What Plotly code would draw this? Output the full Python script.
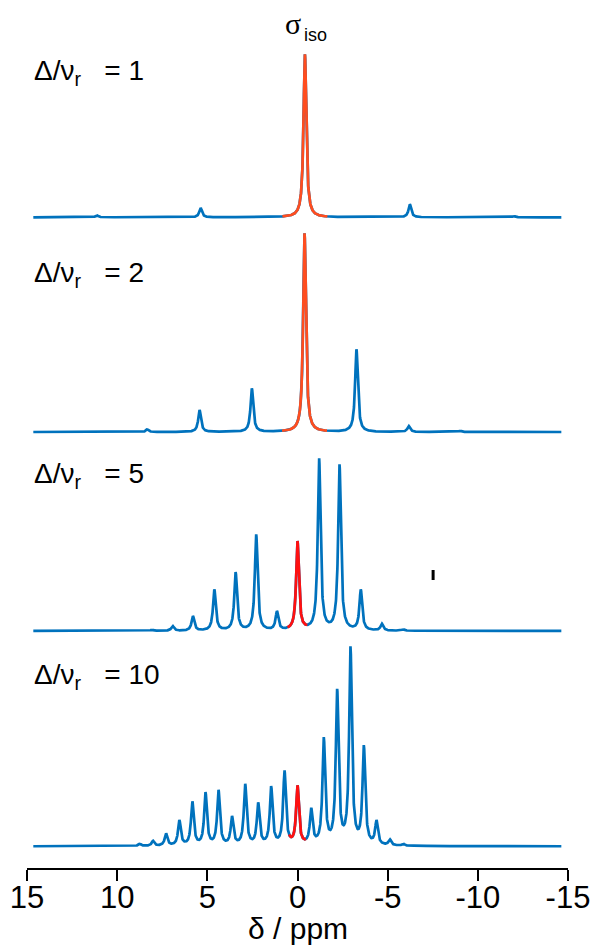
import numpy as np
import plotly.graph_objects as go

# ---------------- data ----------------
tick_vals = [15, 10, 5, 0, -5, -10, -15]
tick_text = ["15", "10", "5", "0", "-5", "-10", "-15"]

ratio_labels = ["1", "2", "5", "10"]

# peak positions (ppm) and observed peak heights (arbitrary units) per spectrum
pos_1 = [11.13, 5.37, -0.41, -6.23, -11.99]
hgt_1 = [2.0, 9.3, 163.0, 13.0, 1.2]
iso_1 = -0.41

pos_2 = [11.15, 8.33, 5.43, 2.53, -0.39, -3.27, -6.17, -9.03]
hgt_2 = [0.5, 2.7, 22.0, 43.7, 198.7, 82.7, 6.0, 1.2]
iso_2 = -0.39

pos_5 = [8.07, 6.92, 5.80, 4.61, 3.43, 2.29, 1.14, 0.0, -1.20, -2.33, -3.51, -4.68, -5.86]
hgt_5 = [1.2, 5.0, 15.0, 41.7, 59.0, 96.7, 20.0, 90.0, 172.7, 166.7, 41.7, 7.3, 1.7]
iso_5 = 0.0

pos_10 = [9.45, 8.75, 8.01, 7.29, 6.55, 5.83, 5.10, 4.38, 3.63, 2.90, 2.18, 1.46, 0.72,
          0.0,
          -0.76, -1.46, -2.20, -2.94, -3.68, -4.38, -5.12, -5.86, -6.58]
hgt_10 = [0.7, 2.5, 5.5, 13.0, 26.3, 45.0, 54.3, 56.6, 30.3, 62.6, 44.0, 60.3, 76.0,
          61.0,
          38.6, 109.3, 157.6, 200.3, 101.3, 26.3, 7.0, 2.6, 0.7]
iso_10 = 0.0

# ---------------- layout / style constants ----------------
W, H = 594, 945
M_L, M_R, M_T, M_B = 27, 26, 0, 77
PLOT_H = H - M_T - M_B
BLUE = "#0072BD"
ORANGE = "#FF4D1F"
RED = "#FF1010"
LINE_W = 2.7
HWHM = 0.09          # Lorentzian half width (ppm)
X_START, X_END = 14.65, -14.63
SANS = "Liberation Sans, Arial, sans-serif"
SERIF = "Liberation Serif, Times New Roman, serif"

spectra = [
    dict(pos=pos_1, hgt=hgt_1, iso=iso_1, base=650.7, half=1.25, col=ORANGE, lab_y=796),
    dict(pos=pos_2, hgt=hgt_2, iso=iso_2, base=436.0, half=1.25, col=ORANGE, lab_y=594),
    dict(pos=pos_5, hgt=hgt_5, iso=iso_5, base=237.0, half=0.55, col=RED, lab_y=393),
    dict(pos=pos_10, hgt=hgt_10, iso=iso_10, base=21.7, half=0.47, col=RED, lab_y=192),
]


def lor(d):
    return 1.0 / (1.0 + (d / HWHM) ** 2)


x = np.linspace(X_START, X_END, 4000)

fig = go.Figure()
for s in spectra:
    p = np.array(s["pos"])
    h = np.array(s["hgt"])
    M = lor(p[:, None] - p[None, :])
    amp = np.linalg.solve(M, h)
    y = (amp[None, :] * lor(x[:, None] - p[None, :])).sum(axis=1) + s["base"]
    fig.add_trace(go.Scatter(x=x, y=y, mode="lines",
                             line=dict(color=BLUE, width=LINE_W), hoverinfo="skip"))
    m = np.abs(x - s["iso"]) <= s["half"]
    fig.add_trace(go.Scatter(x=x[m], y=y[m], mode="lines",
                             line=dict(color=s["col"], width=LINE_W), hoverinfo="skip"))

annotations = []
for s, r in zip(spectra, ratio_labels):
    annotations.append(dict(
        x=14.75, y=s["lab_y"], xref="x", yref="y", xanchor="left", yanchor="middle",
        text="Δ/ν<sub>r</sub>\u00a0\u00a0\u00a0= " + r, showarrow=False,
        font=dict(family=SANS, size=28, color="black")))

annotations.append(dict(x=0.27, y=845, xref="x", yref="y", xanchor="center", yanchor="middle",
                        text="σ", showarrow=False,
                        font=dict(family=SERIF, size=30, color="black")))
annotations.append(dict(x=-0.98, y=833, xref="x", yref="y", xanchor="center", yanchor="middle",
                        text="iso", showarrow=False,
                        font=dict(family=SANS, size=18, color="black")))
annotations.append(dict(x=0.5, y=-(928 - PLOT_H) / PLOT_H, xref="paper", yref="paper",
                        xanchor="center", yanchor="middle",
                        text="δ / ppm", showarrow=False,
                        font=dict(family=SANS, size=30, color="black")))

fig.update_layout(
    width=W, height=H,
    margin=dict(l=M_L, r=M_R, t=M_T, b=M_B, pad=0),
    paper_bgcolor="white", plot_bgcolor="white",
    showlegend=False,
    annotations=annotations,
    shapes=[dict(type="line", xref="x", yref="y", x0=-7.52, x1=-7.52, y0=288, y1=298,
                 line=dict(color="black", width=3))],
    xaxis=dict(range=[15, -15], showgrid=False, zeroline=False,
               showline=True, linecolor="black", linewidth=2,
               ticks="outside", ticklen=11, tickwidth=2, tickcolor="black",
               ticklabelstandoff=-10,
               tickmode="array", tickvals=tick_vals, ticktext=tick_text,
               tickfont=dict(family=SANS, size=31, color="black")),
    yaxis=dict(range=[0, PLOT_H], visible=False, showgrid=False, zeroline=False, fixedrange=True),
)

fig.write_html("out.html")
